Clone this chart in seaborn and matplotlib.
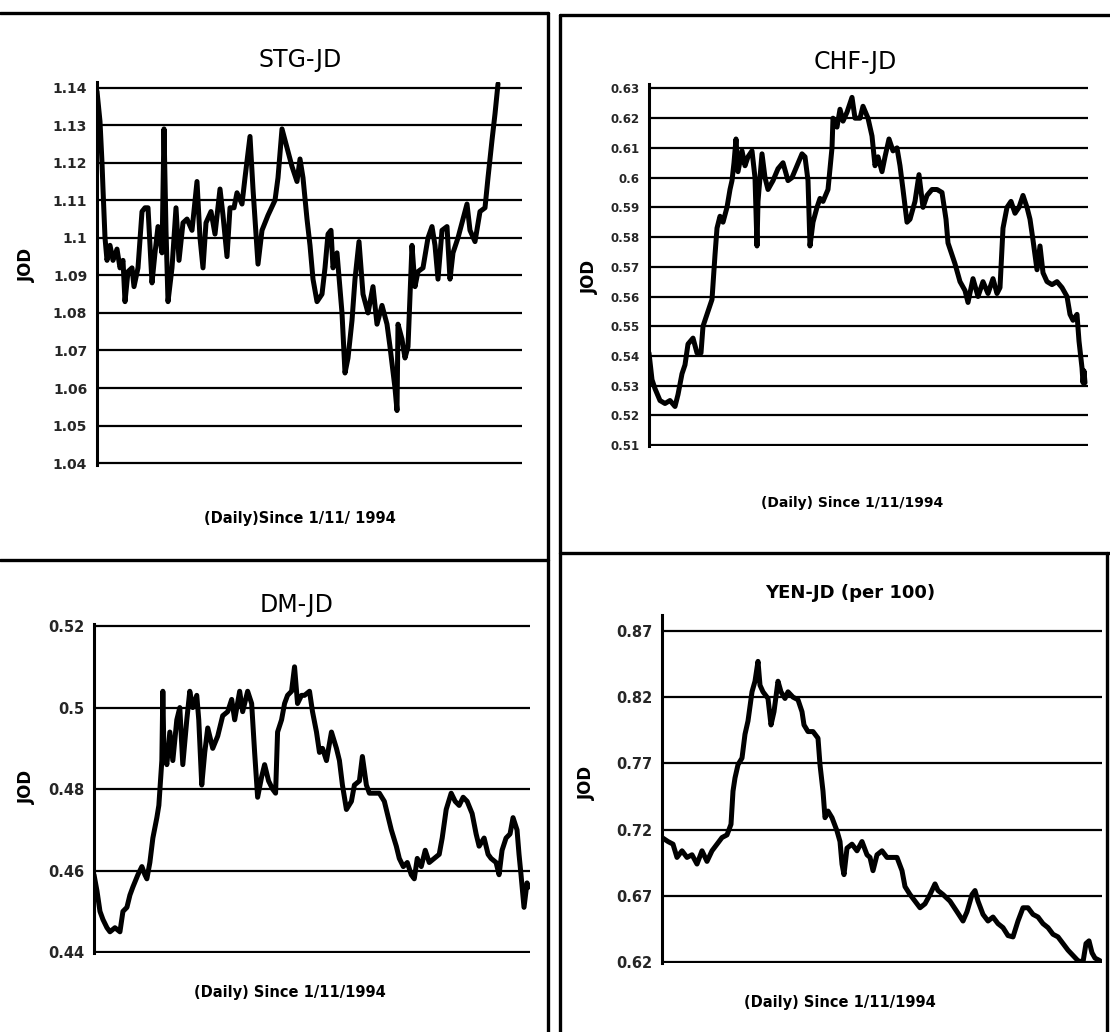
import matplotlib
matplotlib.use("Agg")
import matplotlib.pyplot as plt
from matplotlib.lines import Line2D
import pandas as pd
import seaborn as sns

W, H = 1110, 1032

# --- data (day index since 1/11/1994, rate in JOD) ---
stg_day = [0, 3, 5, 6, 8, 10, 13, 16, 20, 23, 26, 28, 31, 35, 37, 41, 45, 48, 51, 55,
           58, 61, 65, 67, 69, 71, 75, 79, 82, 86, 90, 95, 100, 103, 106, 109, 114, 118, 123, 126,
           130, 133, 137, 140, 145, 148, 153, 156, 161, 165, 171, 178, 181, 185, 190, 195, 200,
           203, 206, 210, 213, 216, 220, 225, 228, 231, 234, 236, 240, 245, 248, 251, 255, 258, 262, 266, 271,
           276, 280, 285, 290, 293, 298, 300, 301, 305, 308, 311, 315, 318, 321, 326, 331, 335, 338, 341, 345,
           350, 353, 356, 361, 366, 370, 373, 378, 383, 388, 391, 395, 398, 401]
stg_rate = [1.139, 1.131, 1.120, 1.113, 1.100, 1.094, 1.098, 1.094, 1.097, 1.092,
            1.094, 1.083, 1.091, 1.092, 1.087, 1.092, 1.107, 1.108, 1.108, 1.088,
            1.096, 1.103, 1.096, 1.129, 1.102, 1.083, 1.092, 1.108, 1.094, 1.104,
            1.105, 1.102, 1.115, 1.100, 1.092, 1.104, 1.107, 1.101, 1.113, 1.106,
            1.095, 1.108, 1.108, 1.112, 1.109, 1.116, 1.127, 1.113, 1.093, 1.102,
            1.106, 1.110, 1.116, 1.129, 1.124, 1.119, 1.115,
            1.121, 1.116, 1.105, 1.098, 1.089, 1.083, 1.085, 1.092, 1.101, 1.102,
            1.092, 1.096, 1.080, 1.064, 1.068, 1.078, 1.089, 1.099, 1.085, 1.080,
            1.087, 1.077, 1.082, 1.077, 1.071, 1.060, 1.054, 1.077, 1.073, 1.068,
            1.071, 1.098, 1.087, 1.091, 1.092, 1.100, 1.103, 1.098, 1.089, 1.102,
            1.103, 1.089, 1.096, 1.100, 1.105, 1.109, 1.102, 1.099, 1.107, 1.108,
            1.116, 1.126, 1.133, 1.141]

chf_day = [0, 3, 6, 11, 16, 21, 26, 29, 33, 36, 39, 44, 48, 52, 54, 58, 63, 66, 68, 71,
           74, 78, 81, 83, 85, 87, 89, 93, 96, 99, 103, 106, 108, 109, 113, 116, 119, 124, 129, 134,
           139, 143, 148, 153, 156, 159, 161, 164, 168, 171, 174, 179, 183, 184, 188, 191, 194, 198, 203, 206,
           211, 214, 219, 223, 226, 229, 233, 236, 240, 244, 248, 251, 254, 258, 261, 266, 270, 274, 278, 283,
           288, 293, 297, 299, 303, 306, 311, 316, 319, 324, 329, 334, 339, 344, 348, 351, 354, 358, 362, 366,
           370, 374, 378, 381, 384, 388, 391, 394, 398, 403, 408, 413, 418, 421, 424, 428, 430, 433, 434, 435, 436]
chf_rate = [0.541, 0.532, 0.529, 0.525, 0.524, 0.525, 0.523, 0.527, 0.534, 0.537,
            0.544, 0.546, 0.541, 0.541, 0.550, 0.554, 0.559, 0.574, 0.583, 0.587,
            0.585, 0.590, 0.596, 0.599, 0.605, 0.613, 0.602, 0.609, 0.604, 0.607,
            0.609, 0.600, 0.577, 0.592, 0.608, 0.600, 0.596, 0.599, 0.603, 0.605,
            0.599, 0.600, 0.604, 0.608, 0.607, 0.599, 0.577, 0.585, 0.590, 0.593,
            0.592, 0.596, 0.610, 0.620, 0.617, 0.623, 0.619, 0.622, 0.627, 0.620,
            0.620, 0.624, 0.620, 0.614, 0.604, 0.607, 0.602, 0.607, 0.613, 0.609,
            0.610, 0.604, 0.596, 0.585, 0.586, 0.592, 0.601, 0.590, 0.594, 0.596,
            0.596, 0.595, 0.586, 0.578, 0.574, 0.571, 0.565, 0.562, 0.558, 0.566,
            0.560, 0.565, 0.561, 0.566, 0.561, 0.563, 0.583, 0.590, 0.592, 0.588,
            0.590, 0.594, 0.590, 0.586, 0.579, 0.569, 0.577, 0.568, 0.565, 0.564,
            0.565, 0.563, 0.560, 0.554, 0.552, 0.554, 0.545, 0.536, 0.531, 0.535, 0.531]

dm_day = [0, 3, 6, 9, 13, 16, 21, 26, 29, 33, 36, 39, 44, 48, 51, 53, 56, 59, 63, 65,
          68, 69, 70, 73, 76, 79, 83, 86, 89, 93, 96, 99, 103, 105, 108, 111, 114, 119, 124, 129,
          134, 138, 141, 146, 149, 154, 158, 161, 164, 168, 171, 175, 179, 182, 184, 188, 191, 194, 198, 201,
          204, 208,
          211, 216, 219, 223, 226, 229, 233, 238, 243, 246, 249, 253, 258, 261, 266, 269, 273, 276, 281, 286,
          291, 294, 298, 303, 306, 310, 314, 318, 321, 324, 328, 332, 336, 341, 346, 349, 353, 358, 362, 366,
          370, 374, 379, 383, 386, 391, 395, 398, 403, 406, 409, 413, 417, 420, 424, 426, 428, 431, 434, 436]
dm_rate = [0.459, 0.455, 0.450, 0.448, 0.446, 0.445, 0.446, 0.445, 0.450, 0.451,
           0.454, 0.456, 0.459, 0.461, 0.459, 0.458, 0.462, 0.468, 0.473, 0.476,
           0.487, 0.504, 0.490, 0.486, 0.494, 0.487, 0.497, 0.500, 0.486, 0.497,
           0.504, 0.500, 0.503, 0.497, 0.481, 0.489, 0.495, 0.490, 0.493, 0.498,
           0.499, 0.502, 0.497, 0.504, 0.499, 0.504, 0.501, 0.489, 0.478, 0.483,
           0.486, 0.482, 0.480, 0.479, 0.494, 0.497, 0.501, 0.503, 0.504, 0.510,
           0.501, 0.503,
           0.503, 0.504, 0.499, 0.494, 0.489, 0.490, 0.487, 0.494, 0.490, 0.487,
           0.481, 0.475, 0.477, 0.481, 0.482, 0.488, 0.481, 0.479, 0.479, 0.479,
           0.477, 0.474, 0.470, 0.466, 0.463, 0.461, 0.462, 0.459, 0.458, 0.463,
           0.461, 0.465, 0.462, 0.463, 0.464, 0.468, 0.475, 0.479, 0.477, 0.476,
           0.478, 0.477, 0.474, 0.469, 0.466, 0.468, 0.464, 0.463, 0.462, 0.459,
           0.465, 0.468, 0.469, 0.473, 0.470, 0.464, 0.459, 0.451, 0.457, 0.456]

yen_day = [0, 6, 11, 15, 20, 25, 30, 35, 40, 45, 50, 55, 60, 65, 69, 71, 73, 76, 80, 83,
           86, 90, 93, 96, 98, 101, 106, 109, 112, 116, 119, 123, 126, 131, 136, 140, 142, 146, 151, 156,
           158, 161, 163, 166, 170, 175, 178, 180, 182, 185, 190, 195, 200, 205,
           208, 211, 215, 220, 225, 230, 235, 240, 243, 248, 253, 258, 263, 268, 273, 276, 281, 288, 295, 301,
           305, 310, 313, 316, 321, 326, 331, 336, 341, 346, 351, 356, 361, 366, 371, 376, 381, 386, 391, 396,
           401, 406, 411, 416, 421, 424, 427, 430, 433, 438]
yen_rate = [0.714, 0.711, 0.709, 0.699, 0.704, 0.699, 0.701, 0.694, 0.704, 0.696,
            0.704, 0.709, 0.714, 0.716, 0.724, 0.749, 0.759, 0.769, 0.774, 0.792,
            0.802, 0.824, 0.832, 0.847, 0.829, 0.824, 0.819, 0.799, 0.809, 0.832,
            0.824, 0.819, 0.824, 0.820, 0.818, 0.809, 0.799, 0.794, 0.794, 0.789,
            0.769, 0.749, 0.729, 0.734, 0.729, 0.719, 0.711, 0.694, 0.686, 0.706,
            0.709, 0.704, 0.711, 0.701,
            0.699, 0.689, 0.701, 0.704, 0.699, 0.699, 0.699, 0.689, 0.677, 0.671,
            0.666, 0.661, 0.664, 0.671, 0.679, 0.674, 0.671, 0.666, 0.658, 0.651,
            0.658, 0.671, 0.674, 0.666, 0.656, 0.651, 0.654, 0.649, 0.646, 0.640,
            0.639, 0.651, 0.661, 0.661, 0.656, 0.654, 0.649, 0.646, 0.641, 0.639,
            0.634, 0.629, 0.625, 0.621, 0.620, 0.634, 0.636, 0.627, 0.623, 0.621]

stg_ticks = [1.04, 1.05, 1.06, 1.07, 1.08, 1.09, 1.10, 1.11, 1.12, 1.13, 1.14]
chf_ticks = [0.51, 0.52, 0.53, 0.54, 0.55, 0.56, 0.57, 0.58, 0.59, 0.60, 0.61, 0.62, 0.63]
dm_ticks = [0.44, 0.46, 0.48, 0.50, 0.52]
yen_ticks = [0.62, 0.67, 0.72, 0.77, 0.82, 0.87]

titles = ["STG-JD", "CHF-JD", "DM-JD", "YEN-JD (per 100)"]
xlabels = ["(Daily)Since 1/11/ 1994", "(Daily) Since 1/11/1994",
           "(Daily) Since 1/11/1994", "(Daily) Since 1/11/1994"]

sns.set_style("white")
plt.rcParams['font.family'] = ['DejaVu Sans']

fig = plt.figure(figsize=(W / 100, H / 100), dpi=100)


def px_axes(left, top, right, bottom):
    return fig.add_axes([left / W, 1 - bottom / H, (right - left) / W, (bottom - top) / H])


def fig_text(x, y, s, **kw):
    fig.text(x / W, 1 - y / H, s, ha='center', va='center', color='black', **kw)


def draw_panel(ax, days, rates, ticks, ylim, xmax, tick_size):
    df = pd.DataFrame({'day': days, 'rate': rates})
    sns.lineplot(data=df, x='day', y='rate', ax=ax, color='black',
                 linewidth=3.6, estimator=None, zorder=3)
    ax.set_xlim(0, xmax)
    ax.set_ylim(*ylim)
    ax.set_yticks(ticks)
    ax.set_yticklabels([f"{t:g}" for t in ticks], fontsize=tick_size, fontweight='bold')
    ax.set_xticks([])
    ax.set_xlabel('')
    ax.set_ylabel('')
    ax.grid(axis='y', color='black', linewidth=1.6, zorder=1)
    ax.set_axisbelow(True)
    for side in ['top', 'right', 'bottom']:
        ax.spines[side].set_visible(False)
    ax.spines['left'].set_color('black')
    ax.spines['left'].set_linewidth(2.2)
    ax.tick_params(axis='y', direction='out', length=5, width=1.5, color='black', pad=2)
    ax.set_facecolor('white')


# panel axes placed in pixel coordinates of the scan
ax1 = px_axes(97, 82, 522, 465)
draw_panel(ax1, stg_day, stg_rate, stg_ticks, (1.0395, 1.1415), 425, 10)
ax2 = px_axes(649, 84, 1088, 446)
draw_panel(ax2, chf_day, chf_rate, chf_ticks, (0.5097, 0.6315), 439, 8.5)
ax3 = px_axes(94, 624, 530, 953)
draw_panel(ax3, dm_day, dm_rate, dm_ticks, (0.4398, 0.5205), 437, 10.5)
ax4 = px_axes(662, 615, 1102, 963)
draw_panel(ax4, yen_day, yen_rate, yen_ticks, (0.6193, 0.882), 440, 10.5)

# titles, x labels and JOD labels
title_pos = [(300, 60), (855, 62), (297, 605), (850, 593)]
title_size = [17, 17, 17, 13]
title_weight = ['normal', 'normal', 'normal', 'bold']
xlabel_pos = [(300, 518), (852, 503), (290, 993), (840, 1002)]
xlabel_size = [10.5, 10, 10.5, 10.5]
ylabel_pos = [(27, 265), (590, 277), (27, 787), (587, 783)]
for i in range(4):
    fig_text(*title_pos[i], titles[i], fontsize=title_size[i], fontweight=title_weight[i])
    fig_text(*xlabel_pos[i], xlabels[i], fontsize=xlabel_size[i], fontweight='bold')
    fig_text(*ylabel_pos[i], "JOD", fontsize=12, fontweight='bold', rotation=90)

# thick frame lines of the scanned page
frame = [((0, 13), (548, 13)), ((548, 13), (548, 1032)),
         ((560, 15), (1110, 15)), ((560, 15), (560, 1032)),
         ((0, 560), (548, 560)), ((560, 553), (1110, 553)),
         ((1107, 553), (1107, 1032))]
for (x0, y0), (x1, y1) in frame:
    fig.add_artist(Line2D([x0 / W, x1 / W], [1 - y0 / H, 1 - y1 / H],
                          color='black', linewidth=2.4))

fig.savefig("out.png", dpi=100, facecolor='white')
